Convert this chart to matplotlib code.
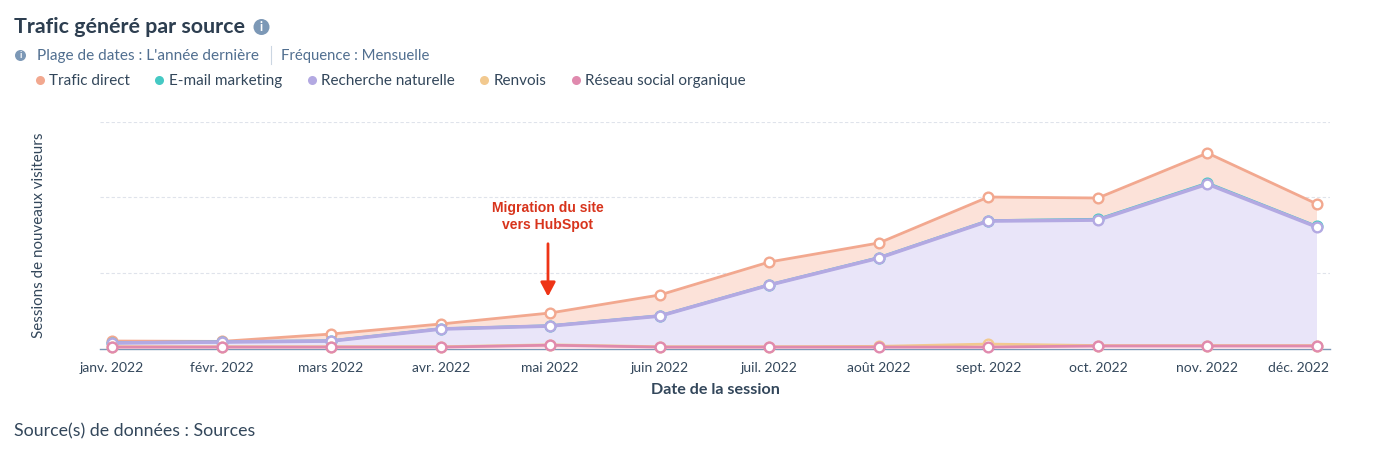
import numpy as np
import matplotlib
matplotlib.use("Agg")
from matplotlib import pyplot as plt
from matplotlib.lines import Line2D
from matplotlib.patches import Circle
from matplotlib.transforms import ScaledTranslation

plt.rcParams['font.family'] = ['Lato', 'DejaVu Sans']

mois = ["janv. 2022", "févr. 2022", "mars 2022", "avr. 2022", "mai 2022", "juin 2022",
        "juil. 2022", "août 2022", "sept. 2022", "oct. 2022", "nov. 2022", "déc. 2022"]

# valeurs, empilees dans cet ordre (du bas vers le haut)
reseau_social = [25, 25, 25, 25, 50, 25, 25, 25, 25, 40, 40, 40]
renvois = [5, 5, 5, 5, 5, 5, 5, 10, 40, 5, 5, 5]
recherche = [49, 62, 75, 233, 248, 404, 812, 1162, 1619, 1652, 2126, 1560]
email = [3, 3, 3, 3, 3, 3, 3, 5, 5, 10, 12, 8]
direct = [23, 5, 89, 63, 168, 274, 300, 193, 311, 280, 396, 295]

noms = ["Trafic direct", "E-mail marketing", "Recherche naturelle", "Renvois", "Réseau social organique"]
couleurs = ["#f2a88f", "#45c9c4", "#b3a9e2", "#f2c98f", "#e08aae"]
fonds = ["#fce2d9", "#d5f2f0", "#e9e5f9", "#fbeedb", "#f8dfe9"]

W, H = 1400, 454
TEXTE = "#33475b"
GRIS = "#516f90"

fig = plt.figure(figsize=(W / 100, H / 100), dpi=100, facecolor="white")


def px(x, y):
    return x / W, 1 - y / H


ax = fig.add_axes([100 / W, 1 - 349 / H, 1230 / W, 227 / H])
x = np.arange(12)
pas = (1317 - 112) / 11
ax.set_xlim(-12 / pas, 11 + 13 / pas)
ax.set_ylim(0, 2987)

# du bas vers le haut
series = [reseau_social, renvois, recherche, email, direct]
ordre = [4, 3, 2, 1, 0]
ax.stackplot(x, series, colors=[fonds[i] for i in ordre], zorder=2, linewidth=0)
cumul = np.cumsum(series, axis=0)
for k in [4, 3, 2, 1, 0]:
    i = ordre[k]
    ax.plot(x, cumul[k], color=couleurs[i], lw=2.6 if i == 2 else 2.0, marker="o", ms=7,
            mfc="white", mec=couleurs[i], mew=1.7, zorder=3 + (4 - k) if k > 0 else 9, clip_on=False)

for s in ["top", "left", "right"]:
    ax.spines[s].set_visible(False)
ax.spines["bottom"].set_color("#7c98b6")
ax.spines["bottom"].set_linewidth(1)
ax.spines["bottom"].set_zorder(1)
ax.set_yticks([1000, 2000, 2987])
ax.set_yticklabels([])
ax.tick_params(axis="y", length=0)
ax.grid(axis="y", color="#dfe3eb", lw=0.8, ls=(0, (3, 2)), zorder=1)
ax.set_axisbelow(True)

ax.set_xticks(x)
ax.set_xticklabels(mois, fontsize=10, color=TEXTE)
ax.tick_params(axis="x", length=0, pad=9)
dernier = ax.get_xticklabels()[-1]
dernier.set_ha("right")
dernier.set_transform(dernier.get_transform() + ScaledTranslation(12 / 100, 0, fig.dpi_scale_trans))
ax.set_xlabel("Date de la session", fontsize=11.6, fontweight="bold", color=TEXTE, labelpad=7)
ax.set_ylabel("Sessions de nouveaux visiteurs", fontsize=10.9, color=TEXTE)
ax.yaxis.set_label_coords(-54 / 1230, 0.5)

ax.annotate("Migration du site\nvers HubSpot", xy=(3.98, 675), xytext=(3.98, 1740),
            ha="center", va="center", fontsize=10.1, fontweight="bold", color="#d8341c",
            family="Liberation Sans", linespacing=1.3, zorder=12)
ax.annotate("", xy=(3.98, 690), xytext=(3.98, 1385), zorder=12,
            arrowprops=dict(arrowstyle="-|>,head_width=0.45,head_length=0.85", color="#ee3416",
                            lw=2, shrinkA=0, shrinkB=0))

# en-tete
fig.text(*px(14, 27), "Trafic généré par source", fontsize=15.4, fontweight="bold", color="#2d3e50", va="center")
fig.text(*px(37, 56), "Plage de dates : L'année dernière", fontsize=11.1, color=GRIS, va="center")
fig.text(*px(281, 56), "Fréquence : Mensuelle", fontsize=10.7, color=GRIS, va="center")
fig.add_artist(Line2D([271 / W, 271 / W], [1 - 46 / H, 1 - 64 / H], color="#cbd6e2", lw=0.8))
fig.text(*px(14, 431), "Source(s) de données : Sources", fontsize=12.8, color=TEXTE, va="center")

# petites icones info
for cx, cy, r, taille in [(261.5, 27, 8, 9), (20.5, 55.5, 5.5, 6.5)]:
    fig.add_artist(Circle((cx, H - cy), r, transform=None, facecolor="#7c98b6", edgecolor="none"))
    fig.text(*px(cx, cy), "i", fontsize=taille, fontweight="bold", color="white", ha="center", va="center")

handles = [Line2D([], [], ls="none", marker="o", ms=6.5, mfc=c, mec="none") for c in couleurs]
fig.legend(handles, noms, ncol=5, loc="center left", bbox_to_anchor=px(35, 81), frameon=False,
           fontsize=11, labelcolor=TEXTE, handlelength=0.6, handletextpad=0.3, columnspacing=1.65,
           borderpad=0, borderaxespad=0)

fig.savefig("out.png", dpi=100)
